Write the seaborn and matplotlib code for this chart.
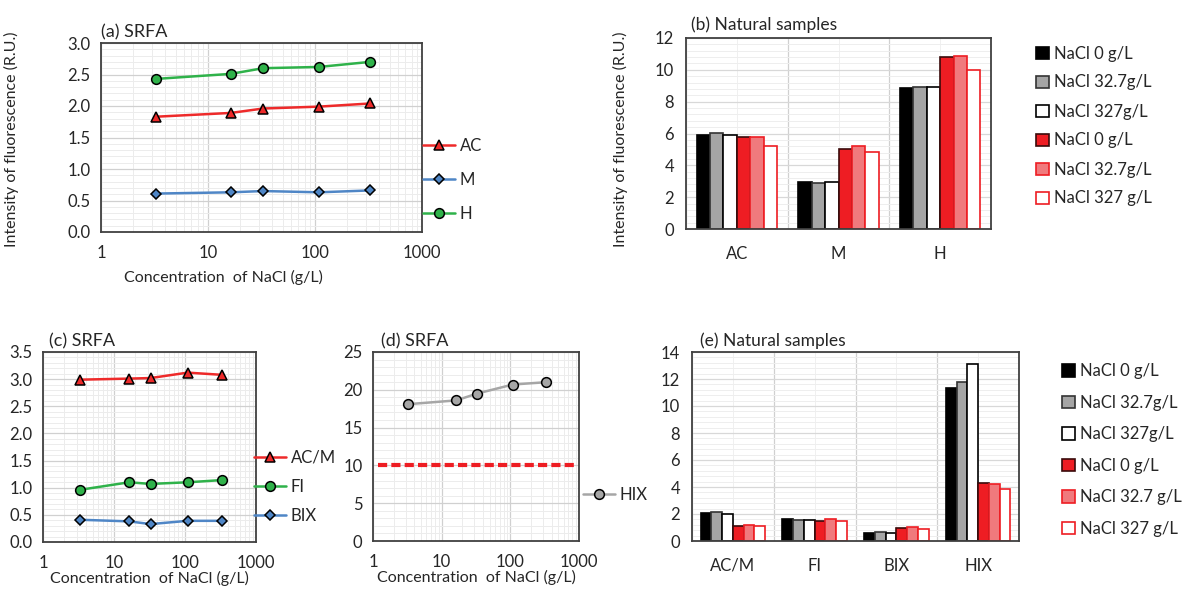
import numpy as np
import pandas as pd
import matplotlib
matplotlib.use('Agg')
import matplotlib.pyplot as plt
from matplotlib.ticker import MultipleLocator, LogLocator, NullFormatter, FixedLocator, FormatStrFormatter
from matplotlib.patches import Patch
import seaborn as sns

#%% Data

nacl = [3.27, 16.35, 32.7, 109, 327]

# (a) SRFA peaks
srfa_ac = [1.83, 1.89, 1.96, 1.99, 2.04]
srfa_m = [0.61, 0.63, 0.65, 0.63, 0.66]
srfa_h = [2.43, 2.51, 2.60, 2.62, 2.70]

# (c) SRFA indices
srfa_acm = [2.99, 3.01, 3.02, 3.12, 3.08]
srfa_fi = [0.96, 1.10, 1.07, 1.10, 1.14]
srfa_bix = [0.41, 0.38, 0.33, 0.39, 0.39]

# (d) SRFA HIX
srfa_hix = [18.1, 18.6, 19.5, 20.7, 21.0]
hix_threshold = 10.1

# (b) natural samples, peaks
peaks = ['AC', 'M', 'H']
nat_peaks = {
    's1': [5.90, 2.96, 8.83],
    's2': [6.05, 2.90, 8.91],
    's3': [5.93, 2.98, 8.91],
    's4': [5.80, 5.05, 10.80],
    's5': [5.76, 5.20, 10.88],
    's6': [5.20, 4.82, 10.00],
}

# (e) natural samples, indices
indices = ['AC/M', 'FI', 'BIX', 'HIX']
nat_idx = {
    's1': [2.08, 1.66, 0.62, 11.35],
    's2': [2.13, 1.59, 0.69, 11.80],
    's3': [2.00, 1.59, 0.62, 13.10],
    's4': [1.14, 1.49, 0.94, 4.29],
    's5': [1.16, 1.61, 1.02, 4.19],
    's6': [1.11, 1.51, 0.92, 3.87],
}

labels_b = ['NaCl 0 g/L', 'NaCl 32.7g/L', 'NaCl 327g/L', 'NaCl 0 g/L', 'NaCl 32.7g/L', 'NaCl 327 g/L']
labels_e = ['NaCl 0 g/L', 'NaCl 32.7g/L', 'NaCl 327g/L', 'NaCl 0 g/L', 'NaCl 32.7 g/L', 'NaCl 327 g/L']

#%% Style

sns.set_style('white')
plt.rcParams['font.family'] = ['Lato', 'DejaVu Sans']
plt.rcParams['axes.edgecolor'] = '#404040'
plt.rcParams['axes.linewidth'] = 1.3

W, H = 1203, 592
fig = plt.figure(figsize=(W / 100, H / 100), dpi=100)


def px_axes(x0, y0, x1, y1):
    return fig.add_axes([x0 / W, (H - y1) / H, (x1 - x0) / W, (y1 - y0) / H])


fills = ['black', '#a5a5a5', 'white', '#ee1d23', '#f07a7d', 'white']
edges = ['black', '#333333', 'black', '#3a0a0a', '#ee1d23', '#ee1d23']

RED, BLUE, GREEN, GREY = '#ee2a2a', '#4f86c6', '#2fb24a', '#a6a6a6'
FS = 12
LFS = 11.5


def style_log(ax, ymax, ystep, yminor):
    ax.set_xscale('log')
    ax.set_xlim(1, 1000)
    ax.set_ylim(0, ymax)
    ax.yaxis.set_major_locator(MultipleLocator(ystep))
    ax.yaxis.set_minor_locator(MultipleLocator(yminor))
    ax.xaxis.set_major_locator(FixedLocator([1, 10, 100, 1000]))
    ax.xaxis.set_minor_locator(LogLocator(10, subs=np.arange(2, 10)))
    ax.xaxis.set_minor_formatter(NullFormatter())
    ax.set_xticklabels(['1', '10', '100', '1000'])
    ax.grid(which='major', color='#d0d0d0', lw=0.9)
    ax.grid(which='minor', color='#ececec', lw=0.7)
    ax.tick_params(axis='x', which='major', direction='inout', length=7, width=1.2, color='#202020', labelsize=FS, pad=6)
    ax.tick_params(axis='x', which='minor', direction='in', length=4, width=1.2, color='#202020')
    ax.tick_params(axis='y', which='major', direction='out', length=4, width=1.2, color='#202020', labelsize=FS)
    ax.tick_params(axis='y', which='minor', length=0)
    ax.set_axisbelow(True)


def line(ax, y, color, marker, ms, label):
    sns.lineplot(x=nacl, y=y, color=color, lw=1.8, marker=marker, markersize=ms,
                 markerfacecolor=color, markeredgecolor='black', markeredgewidth=1.1,
                 label=label, ax=ax, legend=False)


def bars(ax, cats, series, ymax):
    df = pd.DataFrame([(c, k, v) for k, vals in series.items() for c, v in zip(cats, vals)],
                      columns=['cat', 'sample', 'value'])
    sns.barplot(data=df, x='cat', y='value', hue='sample', palette=fills, width=0.79, gap=0,
                saturation=1, ax=ax, legend=False, err_kws={'linewidth': 0})
    for cont, ec in zip(ax.containers, edges):
        for p in cont:
            p.set_edgecolor(ec)
            p.set_linewidth(1.2)
    n = len(cats)
    ax.set_xlim(-0.5, n - 0.5)
    ax.set_ylim(0, ymax)
    ax.xaxis.set_major_locator(FixedLocator(np.arange(n + 1) - 0.5))
    ax.xaxis.set_minor_locator(FixedLocator(np.arange(n)))
    ax.set_xticklabels([''] * (n + 1))
    ax.set_xticklabels(cats, minor=True)
    ax.yaxis.set_major_locator(MultipleLocator(2))
    ax.yaxis.set_minor_locator(MultipleLocator(0.4))
    ax.grid(axis='x', which='major', color='#d0d0d0', lw=0.9)
    ax.grid(axis='x', which='minor', color='#f0f0f0', lw=0.7)
    ax.grid(axis='y', which='major', color='#d8d8d8', lw=0.9)
    ax.grid(axis='y', which='minor', color='#eeeeee', lw=0.7)
    ax.tick_params(axis='x', which='major', direction='out', length=7, width=1.2, color='#202020')
    ax.tick_params(axis='x', which='minor', length=0, labelsize=FS, pad=12)
    ax.tick_params(axis='y', which='major', direction='out', length=5, width=1.2, color='#202020', labelsize=FS)
    ax.tick_params(axis='y', which='minor', length=0)
    ax.set_xlabel('')
    ax.set_ylabel('')
    ax.set_axisbelow(True)


def bar_legend(labels, x, y, spacing):
    handles = [Patch(facecolor=f, edgecolor=e, lw=1.2) for f, e in zip(fills, edges)]
    fig.legend(handles, labels, loc='center left', bbox_to_anchor=(x / W, 1 - y / H), frameon=False,
               fontsize=FS, handlelength=0.75, handleheight=0.75, handletextpad=0.3,
               labelspacing=spacing, borderpad=0, borderaxespad=0)


def line_legend(ax, x, y, spacing):
    h, l = ax.get_legend_handles_labels()
    fig.legend(h, l, loc='center left', bbox_to_anchor=(x / W, 1 - y / H), frameon=False,
               fontsize=FS, handlelength=1.9, handletextpad=0.3, labelspacing=spacing,
               borderpad=0, borderaxespad=0)


#%% (a) SRFA peaks
ax_a = px_axes(101, 43, 422, 232)
line(ax_a, srfa_ac, RED, '^', 7, 'AC')
line(ax_a, srfa_m, BLUE, 'D', 5.5, 'M')
line(ax_a, srfa_h, GREEN, 'o', 7, 'H')
style_log(ax_a, 3.0, 0.5, 0.1)
ax_a.yaxis.set_major_formatter(FormatStrFormatter('%.1f'))
ax_a.set_ylabel('Intensity of fluorescence (R.U.)', fontsize=LFS)
ax_a.yaxis.set_label_coords(-0.255, 0.49)
ax_a.set_xlabel('Concentration  of NaCl (g/L)', fontsize=LFS)
ax_a.xaxis.set_label_coords(0.38, -0.2)
ax_a.set_title('(a) SRFA', loc='left', fontsize=13, x=0.0, pad=4)
line_legend(ax_a, 423, 180, 1.08)

#%% (b) natural peaks
ax_b = px_axes(686, 38, 991, 229)
bars(ax_b, peaks, nat_peaks, 12)
ax_b.set_ylabel('Intensity of fluorescence (R.U.)', fontsize=LFS)
ax_b.yaxis.set_label_coords(-0.19, 0.47)
ax_b.set_title('(b) Natural samples', loc='left', fontsize=12.5, x=0.015, pad=6)
bar_legend(labels_b, 1036, 126, 0.78)

#%% (c) SRFA indices
ax_c = px_axes(43, 352, 256, 542)
line(ax_c, srfa_acm, RED, '^', 7, 'AC/M')
line(ax_c, srfa_fi, GREEN, 'o', 7, 'FI')
line(ax_c, srfa_bix, BLUE, 'D', 5.5, 'BIX')
style_log(ax_c, 3.5, 0.5, 0.1)
ax_c.yaxis.set_major_formatter(FormatStrFormatter('%.1f'))
ax_c.set_xlabel('Concentration  of NaCl (g/L)', fontsize=LFS, labelpad=0)
ax_c.set_title('(c) SRFA', loc='left', fontsize=13, x=0.03, pad=4)
line_legend(ax_c, 254, 487, 0.8)

#%% (d) SRFA HIX
ax_d = px_axes(373, 352, 579, 541)
line(ax_d, srfa_hix, GREY, 'o', 7, 'HIX')
ax_d.hlines(hix_threshold, 1.18, 950, color='#ee1d23', lw=3, linestyles=(0, (2.2, 1.0)))
style_log(ax_d, 25, 5, 1)
ax_d.set_xlabel('Concentration  of NaCl (g/L)', fontsize=LFS, labelpad=0)
ax_d.set_title('(d) SRFA', loc='left', fontsize=13, x=0.04, pad=4)
line_legend(ax_d, 583, 495, 0.8)

#%% (e) natural indices
ax_e = px_axes(692, 352, 1019, 541)
bars(ax_e, indices, nat_idx, 14)
ax_e.set_title('(e) Natural samples', loc='left', fontsize=12.5, x=0.025, pad=4)
bar_legend(labels_e, 1062, 450, 0.93)

fig.savefig('out.png', dpi=100)
